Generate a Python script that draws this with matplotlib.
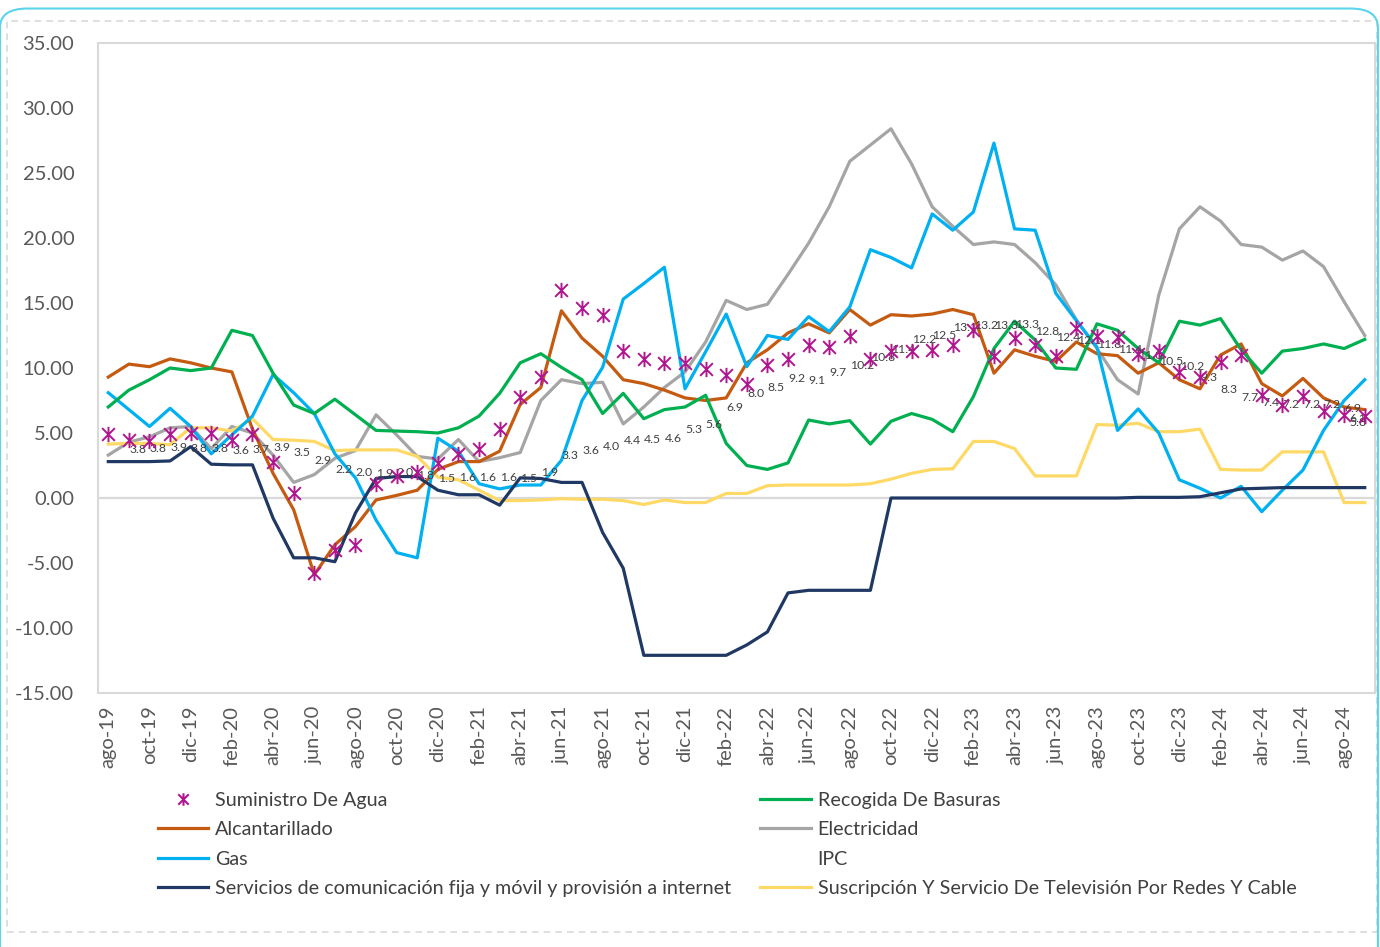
import matplotlib
matplotlib.use("Agg")
import matplotlib.pyplot as plt
import numpy as np
from matplotlib.lines import Line2D
from matplotlib.path import Path
from matplotlib.patches import FancyBboxPatch, Rectangle

plt.rcParams['font.family'] = ['Lato', 'DejaVu Sans']

# meses: ago-19 .. sep-24
nombres_mes = ['ene', 'feb', 'mar', 'abr', 'may', 'jun', 'jul', 'ago', 'sep', 'oct', 'nov', 'dic']
fechas = []
m, a = 7, 19
for k in range(62):
    fechas.append(f"{nombres_mes[m]}-{a}")
    m += 1
    if m == 12:
        m, a = 0, a + 1

agua = [4.9, 4.5, 4.4, 4.9, 5.0, 5.0, 4.5, 4.9, 2.8, 0.4,
        -5.8, -4.0, -3.6, 1.1, 1.7, 2.0, 2.7, 3.4, 3.8, 5.3,
        7.8, 9.3, 16.0, 14.6, 14.1, 11.3, 10.7, 10.4, 10.4, 9.9,
        9.5, 8.8, 10.2, 10.7, 11.8, 11.6, 12.5, 10.7, 11.3, 11.3,
        11.4, 11.8, 12.9, 10.9, 12.3, 11.8, 10.9, 13.1, 12.5, 12.4,
        11.1, 11.3, 9.7, 9.3, 10.5, 11.0, 7.9, 7.15, 7.85, 6.7,
        6.4, 6.3]

alcantarillado = [9.3, 10.3, 10.1, 10.7, 10.4, 10.0, 9.7, 5.3, 1.9, -0.9,
                  -5.9, -3.6, -2.2, -0.15, 0.2, 0.6, 2.2, 2.8, 2.8, 3.6,
                  7.2, 8.5, 14.4, 12.3, 10.9, 9.1, 8.8, 8.3, 7.7, 7.5,
                  7.7, 10.4, 11.4, 12.7, 13.4, 12.7, 14.5, 13.3, 14.1, 14.0,
                  14.15, 14.5, 14.1, 9.6, 11.4, 10.9, 10.5, 12.0, 11.1, 10.95,
                  9.6, 10.4, 9.1, 8.4, 11.0, 11.85, 8.8, 7.85, 9.2, 7.7,
                  7.0, 6.8]

gas = [8.1, 6.8, 5.5, 6.9, 5.5, 3.4, 4.85, 6.3, 9.5, 8.1,
       6.5, 3.4, 1.55, -1.7, -4.2, -4.6, 4.6, 3.6, 1.1, 0.7,
       1.0, 1.0, 2.9, 7.5, 10.05, 15.3, 16.5, 17.75, 8.4, 11.25,
       14.15, 10.1, 12.5, 12.2, 13.95, 12.8, 14.7, 19.1, 18.5, 17.7,
       21.85, 20.6, 22.0, 27.3, 20.7, 20.6, 15.75, 13.65, 11.6, 5.2,
       6.85, 5.0, 1.4, 0.75, 0.0, 0.9, -1.05, 0.6, 2.15, 5.2,
       7.5, 9.1]

comunicaciones = [2.8, 2.8, 2.8, 2.85, 3.95, 2.6, 2.55, 2.55, -1.55, -4.6,
                  -4.6, -4.9, -1.15, 1.5, 1.65, 1.65, 0.6, 0.25, 0.25, -0.55,
                  1.55, 1.5, 1.2, 1.2, -2.65, -5.4, -12.1, -12.1, -12.1, -12.1,
                  -12.1, -11.3, -10.3, -7.3, -7.1, -7.1, -7.1, -7.1, 0.0, 0.0,
                  0.0, 0.0, 0.0, 0.0, 0.0, 0.0, 0.0, 0.0, 0.0, 0.0,
                  0.05, 0.05, 0.05, 0.1, 0.4, 0.7, 0.75, 0.8, 0.8, 0.8,
                  0.8, 0.8]

basuras = [7.0, 8.3, 9.1, 10.0, 9.8, 10.0, 12.9, 12.5, 9.6, 7.15,
           6.5, 7.6, 6.4, 5.2, 5.15, 5.1, 5.0, 5.4, 6.3, 8.05,
           10.4, 11.1, 10.05, 9.1, 6.5, 8.05, 6.1, 6.8, 7.0, 7.9,
           4.2, 2.5, 2.2, 2.7, 6.0, 5.7, 5.95, 4.15, 5.9, 6.5,
           6.05, 5.1, 7.8, 11.5, 13.6, 12.15, 10.0, 9.9, 13.4, 12.9,
           11.5, 10.4, 13.6, 13.3, 13.8, 11.4, 9.6, 11.3, 11.5, 11.85,
           11.5, 12.2]

electricidad = [3.3, 4.3, 4.7, 5.4, 5.5, 3.8, 5.5, 5.0, 3.3, 1.2,
                1.8, 3.05, 3.65, 6.4, 4.85, 3.2, 3.0, 4.5, 2.8, 3.1,
                3.5, 7.5, 9.1, 8.8, 8.9, 5.7, 7.0, 8.5, 9.7, 12.0,
                15.2, 14.5, 14.9, 17.2, 19.6, 22.4, 25.9, 27.15, 28.4, 25.7,
                22.4, 20.9, 19.5, 19.7, 19.5, 18.1, 16.4, 13.7, 11.5, 9.1,
                8.0, 15.6, 20.7, 22.4, 21.3, 19.5, 19.3, 18.3, 19.0, 17.8,
                15.1, 12.5]

ipc = [3.75, 3.82, 3.86, 3.84, 3.80, 3.62, 3.72, 3.86, 3.51, 2.85,
       2.19, 1.97, 1.88, 1.97, 1.75, 1.49, 1.61, 1.60, 1.56, 1.51,
       1.95, 3.30, 3.63, 3.97, 4.44, 4.51, 4.58, 5.26, 5.62, 6.94,
       8.01, 8.53, 9.23, 9.07, 9.67, 10.21, 10.84, 11.44, 12.22, 12.53,
       13.12, 13.25, 13.28, 13.34, 12.82, 12.36, 12.13, 11.78, 11.43, 10.99,
       10.48, 10.15, 9.28, 8.35, 7.74, 7.36, 7.16, 7.16, 7.18, 6.86,
       6.12, 5.81]

television = [4.15, 4.2, 4.2, 4.1, 5.4, 5.4, 5.15, 6.1, 4.5, 4.45,
              4.35, 3.65, 3.7, 3.7, 3.7, 3.2, 1.6, 1.4, 0.6, -0.2,
              -0.2, -0.15, -0.05, -0.1, -0.1, -0.2, -0.5, -0.15, -0.35, -0.35,
              0.35, 0.35, 0.95, 1.0, 1.0, 1.0, 1.0, 1.1, 1.45, 1.9,
              2.2, 2.25, 4.35, 4.35, 3.8, 1.7, 1.7, 1.7, 5.65, 5.6,
              5.75, 5.1, 5.1, 5.3, 2.2, 2.15, 2.15, 3.55, 3.55, 3.55,
              -0.35, -0.35]

x = np.arange(len(fechas))

# marcador tipo estrella de Excel: una x con una barra vertical
estrella = Path([(-0.5, -0.5), (0.5, 0.5), (-0.5, 0.5), (0.5, -0.5), (0, -0.6), (0, 0.6)],
                [Path.MOVETO, Path.LINETO, Path.MOVETO, Path.LINETO, Path.MOVETO, Path.LINETO])

fig = plt.figure(figsize=(13.8, 9.47), dpi=100)
ax = fig.add_axes([0.0710, 0.2682, 0.9254, 0.6864])

lw = 2.3
agua_color = '#B0168F'
ax.axhline(0, color='#D9D9D9', lw=1.6, zorder=1)
ax.plot(x, alcantarillado, color='#C55A11', lw=lw, zorder=3)
ax.plot(x, gas, color='#00B0F0', lw=lw, zorder=3)
ax.plot(x, comunicaciones, color='#203864', lw=lw, zorder=3)
ax.plot(x, basuras, color='#00B050', lw=lw, zorder=3)
ax.plot(x, electricidad, color='#A5A5A5', lw=lw, zorder=2)
ax.plot(x, ipc, linestyle='none')
ax.plot(x, television, color='#FFD966', lw=lw, zorder=2)
ax.plot(x, agua, linestyle='none', marker=estrella, ms=11, mew=1.4,
        color=agua_color, zorder=5)

# etiquetas del IPC a la derecha de cada punto
n = len(ipc)
for i, v in enumerate(ipc):
    dx = 15
    if i == n - 2:
        dx = 4
    elif i == n - 1:
        dx = -11
    ax.annotate(f"{v:.1f}", (x[i], v), xytext=(dx, 0), textcoords='offset points',
                ha='left', va='center', fontsize=8.8, color='#404040', zorder=4)

ax.set_xlim(-0.5, len(fechas) - 0.5)
ax.set_ylim(-15, 35)
ax.set_yticks(np.arange(-15, 36, 5))
ax.set_yticklabels([f"{t:.2f}" for t in np.arange(-15, 36, 5)])
ax.set_xticks(x[::2])
ax.set_xticklabels(fechas[::2], rotation=90)
ax.tick_params(axis='y', length=0, pad=17, labelsize=14.5, labelcolor='#595959')
ax.tick_params(axis='x', length=0, pad=9, labelsize=14.5, labelcolor='#595959')
for s in ax.spines.values():
    s.set_color('#D9D9D9')
    s.set_linewidth(1.5)

handles = [
    Line2D([], [], linestyle='none', marker=estrella, ms=9, mew=1.5, color=agua_color),
    Line2D([], [], color='#C55A11', lw=lw),
    Line2D([], [], color='#00B0F0', lw=lw),
    Line2D([], [], color='#203864', lw=lw),
    Line2D([], [], color='#00B050', lw=lw),
    Line2D([], [], color='#A5A5A5', lw=lw),
    Line2D([], [], linestyle='none'),
    Line2D([], [], color='#FFD966', lw=lw),
]
labels = ['Suministro De Agua', 'Alcantarillado', 'Gas',
          'Servicios de comunicación fija y móvil y provisión a internet',
          'Recogida De Basuras', 'Electricidad', 'IPC',
          'Suscripción Y Servicio De Televisión Por Redes Y Cable']
fig.legend(handles, labels, ncol=2, loc='upper left', bbox_to_anchor=(0.107, 0.1742),
           frameon=False, fontsize=14.2, handlelength=2.55, handletextpad=0.35,
           labelspacing=0.63, columnspacing=1.5, borderpad=0, labelcolor='#404040')

# marcos del area del grafico
fig.patches.append(Rectangle((0.005, 0.016), 0.993, 0.962, transform=fig.transFigure,
                             fill=False, ec='#D9D9D9', lw=1.2, ls=(0, (4, 3))))
fig.patches.append(FancyBboxPatch((0.0, -0.02), 0.9985, 1.011, transform=fig.transFigure,
                                  boxstyle='round,pad=0,rounding_size=0.02',
                                  fill=False, ec='#5BD5EC', lw=1.5))

fig.savefig('out.png', dpi=100)
